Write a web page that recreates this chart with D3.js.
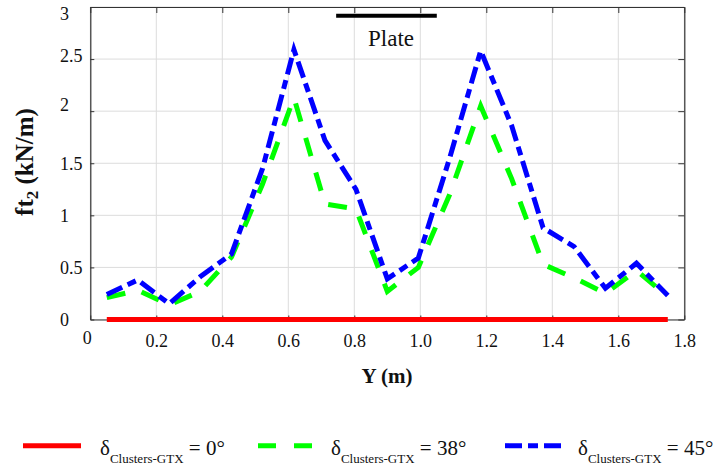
<!DOCTYPE html>
<html>
<head>
<meta charset="utf-8">
<script src="https://cdn.jsdelivr.net/npm/d3@7"></script>
<style>
  html, body { margin: 0; padding: 0; background: #fff; }
  svg { display: block; font-family: "Liberation Serif", Tinos, "Times New Roman", Times, serif; }
  svg text { font-family: "Liberation Serif", Tinos, "Times New Roman", Times, serif; }
</style>
</head>
<body>
<svg id="chart" width="719" height="465"></svg>
<script>
// ---- data ----
const positionsY = [0.05, 0.144, 0.239, 0.333, 0.428, 0.522, 0.617, 0.711, 0.805, 0.9, 0.994, 1.089, 1.183, 1.277, 1.372, 1.466, 1.561, 1.655, 1.75];
const ft2_0deg  = [0, 0, 0, 0, 0, 0, 0, 0, 0, 0, 0, 0, 0, 0, 0, 0, 0, 0, 0];
const ft2_38deg = [0.21, 0.28, 0.14, 0.27, 0.60, 1.30, 2.13, 1.11, 1.06, 0.27, 0.50, 1.20, 2.05, 1.35, 0.53, 0.40, 0.25, 0.47, 0.22];
const ft2_45deg = [0.24, 0.38, 0.15, 0.41, 0.63, 1.45, 2.59, 1.72, 1.25, 0.39, 0.59, 1.55, 2.58, 1.86, 0.88, 0.70, 0.30, 0.54, 0.23];
const xTickValues = [0, 0.2, 0.4, 0.6, 0.8, 1.0, 1.2, 1.4, 1.6, 1.8];
const xTickLabels = ["0", "0.2", "0.4", "0.6", "0.8", "1.0", "1.2", "1.4", "1.6", "1.8"];
const yTickValues = [0, 0.5, 1, 1.5, 2, 2.5, 3];
const yTickLabels = ["0", "0.5", "1", "1.5", "2", "2.5", "3"];
const plateExtent = [0.745, 1.05];
const plateLabel = "Plate";
const seriesNames = ["0°", "38°", "45°"];

// ---- layout ----
const svg = d3.select("#chart");
const L = 90.3, R = 684.3, T = 7, B = 319.5;
const x = d3.scaleLinear().domain([0, 1.8]).range([L, R]);
const y = d3.scaleLinear().domain([0, 3]).range([B, T]);

// grid
const grid = svg.append("g").attr("stroke", "#dcdcdc").attr("stroke-width", 1);
grid.selectAll("line.gx").data(xTickValues).join("line")
  .attr("x1", d => x(d)).attr("x2", d => x(d)).attr("y1", T).attr("y2", B);
grid.selectAll("line.gy").data(yTickValues).join("line")
  .attr("x1", L).attr("x2", R).attr("y1", d => y(d)).attr("y2", d => y(d));

// axes (ticks inward)
const fmtX = d => xTickLabels[xTickValues.indexOf(d)];
const fmtY = d => yTickLabels[yTickValues.indexOf(d)];

const xAxis = svg.append("g").attr("transform", `translate(0,${B})`)
  .call(d3.axisBottom(x).tickValues(xTickValues).tickFormat(fmtX).tickSizeInner(-4).tickSizeOuter(0));
xAxis.selectAll("text").attr("y", 27.5).attr("dy", 0)
  .attr("font-size", 18).attr("fill", "#111");
xAxis.selectAll(".tick").filter(d => d === 0).select("text").attr("x", -3.6).attr("y", 24.5);

svg.append("g").attr("transform", `translate(0,${T})`)
  .call(d3.axisTop(x).tickValues(xTickValues).tickFormat("").tickSizeInner(-6).tickSizeOuter(0));

const yLabelShift = { 3: 7, 2.5: -4, 2: -7 };
const yAxis = svg.append("g").attr("transform", `translate(${L},0)`)
  .call(d3.axisLeft(y).tickValues(yTickValues).tickFormat(fmtY).tickSizeInner(-4).tickSizeOuter(0));
yAxis.selectAll("text").attr("x", 60 - L).attr("text-anchor", "start").attr("dy", "0.33em")
  .attr("y", d => yLabelShift[d] || 0)
  .attr("font-size", 18).attr("fill", "#111");

svg.append("g").attr("transform", `translate(${R},0)`)
  .call(d3.axisRight(y).tickValues(yTickValues).tickFormat("").tickSizeInner(-6).tickSizeOuter(0));

svg.selectAll(".domain").attr("stroke", "#333").attr("stroke-width", 1.2);
svg.selectAll(".tick line").attr("stroke", "#333");
svg.selectAll(".tick text").attr("font-family", "Liberation Serif, Tinos, Times New Roman, serif");

// lines
const line = d3.line().x((d, i) => x(positionsY[i])).y(d => y(d));
const series = [
  { vals: ft2_0deg, color: "#ff0000", dash: null },
  { vals: ft2_38deg, color: "#00ff00", dash: "19,17" },
  { vals: ft2_45deg, color: "#0000ff", dash: "17,6,9,6" }
];
svg.append("g").selectAll("path").data(series).join("path")
  .attr("d", d => line(d.vals))
  .attr("fill", "none")
  .attr("stroke", d => d.color)
  .attr("stroke-width", 5)
  .attr("stroke-dasharray", d => d.dash);

// plate
svg.append("line")
  .attr("x1", x(plateExtent[0])).attr("x2", x(plateExtent[1]))
  .attr("y1", 15.7).attr("y2", 15.7)
  .attr("stroke", "#000").attr("stroke-width", 4);
svg.append("text").attr("x", 391).attr("y", 46)
  .attr("text-anchor", "middle").attr("font-size", 23).attr("fill", "#111").text(plateLabel);

// axis titles
svg.append("text").attr("x", 387).attr("y", 383).attr("text-anchor", "middle")
  .attr("font-size", 21).attr("font-weight", "bold").attr("fill", "#111").text("Y (m)");

const yt = svg.append("text").attr("transform", "translate(33,162) rotate(-90)")
  .attr("text-anchor", "middle").attr("font-size", 25).attr("font-weight", "bold").attr("fill", "#111");
yt.append("tspan").text("ft");
yt.append("tspan").attr("font-size", 17).attr("dy", 5).text("2");
yt.append("tspan").attr("dy", -5).text(" (kN/m)");

// legend
const legendX = [23, 258, 505];
const textX = [100, 331, 578];
series.forEach((s, i) => {
  svg.append("line")
    .attr("x1", legendX[i]).attr("x2", legendX[i] + 58)
    .attr("y1", 445.7).attr("y2", 445.7)
    .attr("stroke", s.color).attr("stroke-width", 5)
    .attr("stroke-dasharray", i === 1 ? "18,18" : (i === 2 ? "17,6,10,6" : null));
  const t = svg.append("text").attr("x", textX[i]).attr("y", 455).attr("font-size", 21).attr("fill", "#111");
  t.append("tspan").text("δ");
  t.append("tspan").attr("font-size", 13).attr("dy", 8).text("Clusters-GTX");
  t.append("tspan").attr("dy", -8).text(" = " + seriesNames[i]);
});
</script>
</body>
</html>
